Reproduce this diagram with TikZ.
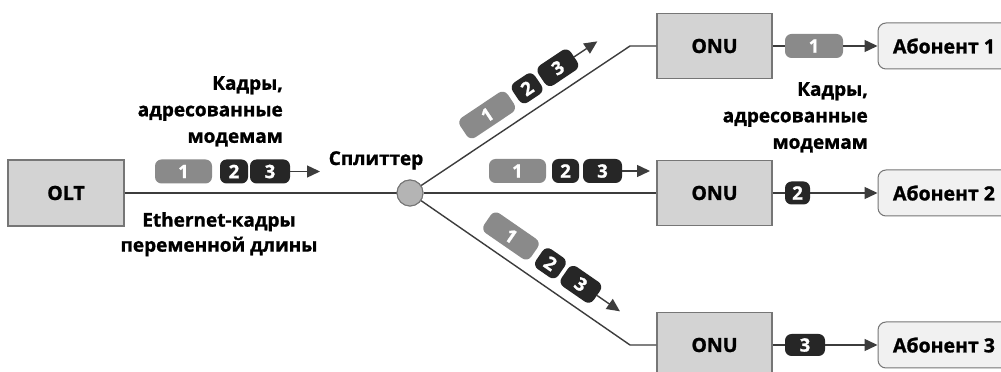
\documentclass[tikz,border=0pt]{standalone}
\usepackage{fontspec}
\setmainfont{Open Sans}[BoldFeatures={FakeBold=1.2}]
\usetikzlibrary{arrows.meta}
\definecolor{boxfill}{HTML}{D3D3D3}
\definecolor{boxline}{HTML}{767676}
\definecolor{abfill}{HTML}{F1F1F1}
\definecolor{pktgrey}{HTML}{8A8A8A}
\definecolor{pktdark}{HTML}{262626}
\definecolor{wirecol}{HTML}{3C3C3C}
\definecolor{splfill}{HTML}{B4B4B4}
\begin{document}
\begin{tikzpicture}[x=1pt,y=1pt,
  dev/.style={draw=boxline, fill=boxfill, line width=1.2pt, minimum width=115pt, minimum height=65pt, inner sep=0pt, font=\bfseries\fontsize{19.5}{22}\selectfont},
  sub/.style={draw=boxline, fill=abfill, line width=1pt, rounded corners=8pt, minimum width=132pt, minimum height=46pt, inner sep=0pt, font=\bfseries\fontsize{19.5}{22}\selectfont},
  pkt/.style={rounded corners=6.5pt, minimum height=24pt, inner sep=0pt, text=white, font=\bfseries\fontsize{18.5}{20}\selectfont},
  pg/.style={pkt, fill=pktgrey},
  pd/.style={pkt, fill=pktdark},
  wire/.style={draw=wirecol, line width=1.4pt},
  arr/.style={wire, -{Triangle[length=13pt,width=12pt]}},
  lbl/.style={font=\bfseries\fontsize{19}{26.5}\selectfont, inner sep=0pt}
]
\useasboundingbox[fill=white] (0,0) rectangle (1001,372);

% devices
\node[dev, minimum width=116pt, minimum height=66pt] (olt) at (66,179) {OLT};
\node[circle, draw=boxline, fill=splfill, line width=1pt, minimum size=26pt, inner sep=0pt] (spl) at (410,179) {};
\node[dev] (onu1) at (714.5,326) {ONU};
\node[dev] (onu2) at (714.5,179) {ONU};
\node[dev] (onu3) at (714.5,27) {ONU};
\node[sub] (ab1) at (944,326) {Абонент 1};
\node[sub] (ab2) at (944,179) {Абонент 2};
\node[sub] (ab3) at (944,27) {Абонент 3};

% fibre
\coordinate (b1) at (630,326);
\coordinate (b3) at (630,27);
\draw[wire] (olt.east) -- (spl.west);
\draw[wire] (spl) -- (b1) -- (onu1.west);
\draw[wire] (spl.east) -- (onu2.west);
\draw[wire] (spl) -- (b3) -- (onu3.west);
\node[circle, draw=boxline, fill=splfill, line width=1pt, minimum size=26pt, inner sep=0pt] at (spl) {};

% labels
\node[lbl, anchor=base] (spltxt) at (376,207) {Сплиттер};
\node[lbl, align=right, anchor=north east] (lk) at (283,296) {Кадры,\\адресованные\\модемам};
\node[lbl, align=right, anchor=north east] (rk) at (868,290) {Кадры,\\адресованные\\модемам};
\node[lbl, align=center, anchor=north, font=\bfseries\fontsize{19}{25}\selectfont] (eth) at (219,160) {Ethernet-кадры\\переменной длины};

% frames from OLT
\node[pg, minimum width=57pt] (a1) at (183.5,200.5) {1};
\node[pd, minimum width=28pt] (a2) at (234,200.5) {2};
\node[pd, minimum width=40pt] (a3) at (270,200.5) {3};
\coordinate (at) at (320,200.5);
\draw[arr] (a3.east) -- (at);

% frames on the three branches
\foreach \ang/\n in {33.75/u, 0/m, -34.64/d}{
  \begin{scope}[shift={(spl.center)}, rotate=\ang, transform shape]
    \node[pg, minimum width=57pt] (\n1) at (107.5,22) {1};
    \node[pd, minimum width=27pt] (\n2) at (155.5,22) {2};
    \node[pd, minimum width=39pt] (\n3) at (192.5,22) {3};
    \coordinate (\n t) at (240,22);
    \draw[arr] (\n3.east) -- (\n t);
  \end{scope}
}

% ONU outputs
\node[pg, minimum width=58pt] (q1) at (814,326) {1};
\node[pd, minimum width=25pt, minimum height=23pt] (q2) at (797.5,179) {2};
\node[pd, minimum width=40pt, minimum height=22pt] (q3) at (805,27) {3};
\draw[wire] (onu1.east) -- (q1.west);
\draw[arr] (q1.east) -- (ab1.west);
\draw[wire] (onu2.east) -- (q2.west);
\draw[arr] (q2.east) -- (ab2.west);
\draw[wire] (onu3.east) -- (q3.west);
\draw[arr] (q3.east) -- (ab3.west);
\end{tikzpicture}
\end{document}
